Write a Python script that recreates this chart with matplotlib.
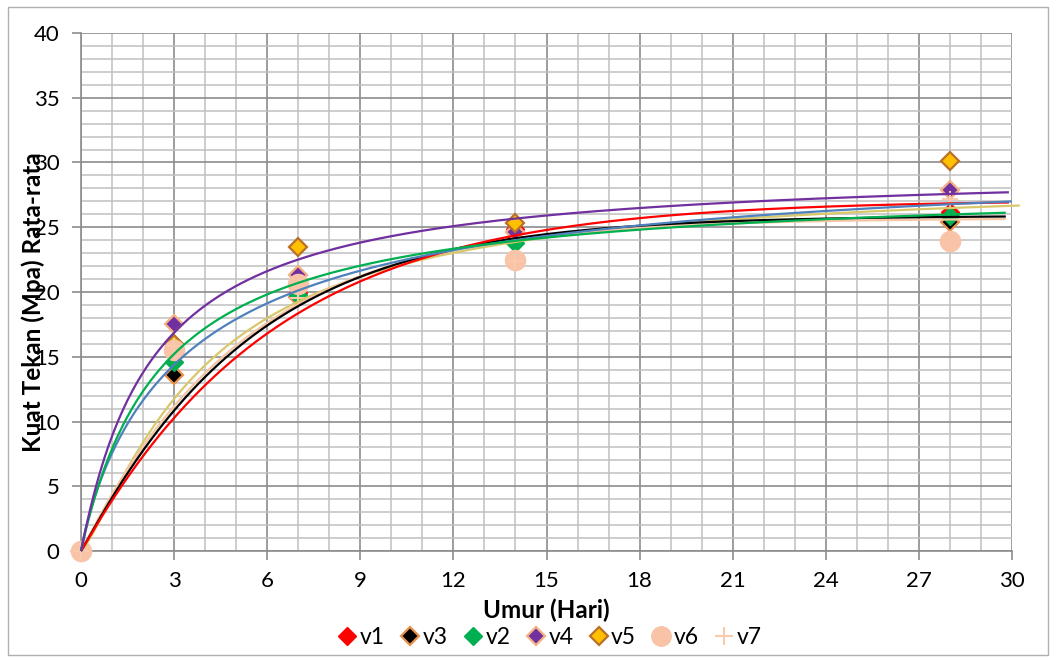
import numpy as np
import matplotlib
matplotlib.use("Agg")
import matplotlib.pyplot as plt
from matplotlib.lines import Line2D
from matplotlib.patches import Rectangle

plt.rcParams['font.family'] = ['Lato', 'DejaVu Sans']

# ---------------- data ----------------
days = [0, 3, 7, 14, 28]
v1 = [0, 15.4, 19.9, 24.9, 26.2]
v3 = [0, 13.6, 19.6, 24.1, 25.4]
v2 = [0, 14.6, 19.8, 23.8, 25.9]
v4 = [0, 17.5, 21.3, 24.6, 27.9]
v5 = [0, 16.0, 23.5, 25.3, 30.1]
v6 = [0, 15.5, 20.6, 22.5, 23.9]
v7 = [0, 15.8, 19.5, 22.4, 27.2]
series_names = ["v1", "v3", "v2", "v4", "v5", "v6", "v7"]

# trend curves: values at these days
trend_days = [0.6, 3, 7, 9, 12, 14, 19, 23, 30]
trend_purple = [5.9, 17.0, 22.3, 24.0, 25.0, 25.6, 26.6, 27.2, 27.8]
trend_green = [5.3, 15.1, 20.8, 21.95, 23.5, 24.0, 25.0, 25.6, 25.9]
trend_blue = [5.0, 14.5, 20.3, 21.4, 23.1, 24.0, 25.2, 26.1, 27.2]
trend_red = [2.2, 10.4, 18.5, 20.7, 23.1, 24.4, 25.8, 26.5, 26.9]
trend_black = [2.5, 10.8, 18.9, 21.05, 23.1, 24.3, 25.3, 25.6, 25.8]
trend_yellow = [2.5, 11.6, 19.4, 21.3, 23.1, 24.0, 25.1, 25.9, 26.6]
trend_tan = [2.5, 11.3, 19.05, 21.3, 23.1, 24.0, 25.1, 25.5, 25.5]
trend_end = [29.9, 29.8, 30.0, 29.9, 29.8, 30.25, 29.8]  # purple, green, blue, red, black, yellow, tan

x_ticks = list(range(0, 31, 3))
y_ticks = list(range(0, 41, 5))


def weibull(t, A, tau, n):
    return A * (1 - np.exp(-(t / tau) ** n))


def hill(t, A, B, n):
    return A * t ** n / (B ** n + t ** n)


def fit_curve(tdays, vals):
    """Least-squares fit of a saturating trend curve through the read values."""
    t = np.asarray(tdays, float)[None, None, None, :]
    y = np.asarray(vals, float)
    best = None
    grids = [
        (weibull, np.linspace(24, 34, 101), np.linspace(2, 12, 101), np.linspace(0.5, 1.4, 46)),
        (hill, np.linspace(24, 36, 121), np.linspace(0.5, 10, 96), np.linspace(0.6, 2.0, 57)),
    ]
    for f, a_, b_, n_ in grids:
        A = a_[:, None, None, None]
        B = b_[None, :, None, None]
        N = n_[None, None, :, None]
        err = ((f(t, A, B, N) - y) ** 2).sum(-1)
        i, j, k = np.unravel_index(np.argmin(err), err.shape)
        if best is None or err[i, j, k] < best[0]:
            best = (err[i, j, k], f, a_[i], b_[j], n_[k])
    _, f, a, b, n = best
    return lambda tt: f(tt, a, b, n)


fig = plt.figure(figsize=(10.53, 6.60), dpi=100)
ax = fig.add_axes([81 / 1053, 1 - 551 / 660, (1012 - 81) / 1053, (551 - 33) / 660])

# chart border
fig.patches.append(Rectangle((8 / 1053, 5 / 660), 1040 / 1053, 648 / 660,
                             transform=fig.transFigure, fill=False,
                             edgecolor='#b0b0b0', lw=1.0))

ax.set_xlim(0, 30)
ax.set_ylim(0, 40)
ax.set_xticks(x_ticks)
ax.set_yticks(y_ticks)
ax.set_xticks(np.arange(0, 31, 1), minor=True)
ax.set_yticks(np.arange(0, 41, 1), minor=True)
ax.grid(which='minor', color='#c0c0c0', lw=1.1, zorder=0)
ax.grid(which='major', color='#8c8c8c', lw=1.2, zorder=0)
ax.set_axisbelow(True)
for s in ['top', 'right']:
    ax.spines[s].set_visible(False)
for s in ['left', 'bottom']:
    ax.spines[s].set_color('#8c8c8c')
    ax.spines[s].set_linewidth(1.2)
ax.tick_params(which='major', length=6.5, width=1.2, color='#8c8c8c',
               labelsize=16, labelcolor='black', direction='out')
ax.tick_params(axis='y', pad=9)
ax.tick_params(axis='x', pad=8)
ax.tick_params(which='minor', length=0)

# markers
mk = dict(ls='none', zorder=3, clip_on=False)
ax.plot(days, v1, marker='D', ms=9.5, mfc='#ff0000', mec='#ff0000', mew=1.0, **mk)
ax.plot(days, v3, marker='D', ms=9.5, mfc='#000000', mec='#e8914a', mew=1.6, **mk)
ax.plot(days, v2, marker='D', ms=9.5, mfc='#00b050', mec='#00b050', mew=1.0, **mk)
ax.plot(days, v4, marker='D', ms=9.5, mfc='#7030a0', mec='#f4b183', mew=1.6, **mk)
ax.plot(days, v5, marker='D', ms=9.5, mfc='#ffc000', mec='#b8702a', mew=1.6, **mk)
ax.plot(days, v6, marker='o', ms=14.5, mfc='#f8c3a6', mec='#f8c3a6', mew=1.0, **mk)
ax.plot(days, v7, marker='+', ms=12, mec='#f8cbad', mew=1.5, **mk)

# trend curves
trend_vals = [trend_purple, trend_green, trend_blue, trend_red, trend_black,
              trend_yellow, trend_tan]
trend_colors = ['#7030a0', '#00b050', '#4f81bd', '#ff0000', '#000000',
                '#d9c86a', '#f4c6a4']
order = [5, 6, 4, 3, 2, 1, 0]
for idx in order:
    curve = fit_curve(trend_days, trend_vals[idx])
    tt = np.linspace(0, trend_end[idx], 400)
    ax.plot(tt, curve(tt), color=trend_colors[idx], lw=1.6, zorder=4, clip_on=False,
            solid_capstyle='butt')

fig.text(546 / 1053, 1 - 610 / 660, 'Umur (Hari)', ha='center', va='center',
         fontsize=17.5, fontweight='bold')
fig.text(33 / 1053, 1 - 302 / 660, 'Kuat Tekan (Mpa) Rata-rata', ha='center',
         va='center', rotation=90, fontsize=17.5, fontweight='bold')

handles = [
    Line2D([], [], ls='none', marker='D', ms=9, mfc='#ff0000', mec='#ff0000'),
    Line2D([], [], ls='none', marker='D', ms=9, mfc='#000000', mec='#e8914a', mew=1.6),
    Line2D([], [], ls='none', marker='D', ms=9, mfc='#00b050', mec='#00b050'),
    Line2D([], [], ls='none', marker='D', ms=9, mfc='#7030a0', mec='#f4b183', mew=1.6),
    Line2D([], [], ls='none', marker='D', ms=9, mfc='#ffc000', mec='#b8702a', mew=1.6),
    Line2D([], [], ls='none', marker='o', ms=14, mfc='#f8c3a6', mec='#f8c3a6'),
    Line2D([], [], ls='none', marker='+', ms=13, mec='#f8cbad', mew=1.5),
]
fig.legend(handles, series_names, loc='center', bbox_to_anchor=(550 / 1053, 1 - 638 / 660),
           ncol=7, frameon=False, fontsize=16.5, handlelength=0.8, handletextpad=0.15,
           columnspacing=0.7, borderpad=0)

fig.savefig('out.png', dpi=100)
